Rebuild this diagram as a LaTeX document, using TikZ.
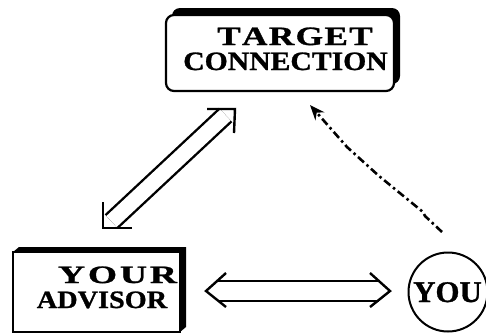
\documentclass[tikz,border=0pt]{standalone}
\usepackage{fontspec}
\setmainfont{Liberation Serif}
\newfontfamily\heavy[BoldFeatures={FakeBold=1.0}]{Liberation Serif}
\usepackage{graphicx}
\usetikzlibrary{arrows.meta}
\begin{document}
\begin{tikzpicture}[x=1pt,y=-1pt,
  boxline/.style={draw=black,line width=2.2pt,fill=white,inner sep=0pt},
  shade/.style={fill=black,draw=none},
  txt/.style={anchor=base,inner sep=0pt},
  dbl/.style={draw=black,double=white,double distance=17pt,line width=2.4pt},
  headline/.style={draw=black,line width=2.4pt,line cap=butt,line join=miter},
  dashdot/.style={draw=black,line width=2.6pt,dash pattern=on 8pt off 3.5pt on 2.5pt off 3.5pt,-{Stealth[length=15pt,width=12pt]}}]
\useasboundingbox (0,0) rectangle (486,335);
% target box
\fill[shade,rounded corners=8pt] (172,8) rectangle (400,84);
\node[boxline,rounded corners=8pt,minimum width=228pt,minimum height=76pt] (tgt) at (280,53) {};
\node[txt,font=\heavy\bfseries\fontsize{26.5}{28}\selectfont] (t1) at (295,45) {\scalebox{1.33}[1]{\makebox[117pt][s]{T\hfil A\hfil R\hfil G\hfil E\hfil T}}};
\node[txt,font=\heavy\bfseries\fontsize{26.5}{28}\selectfont] (t2) at (285.5,70) {\scalebox{1.12}[1]{CONNECTION}};
% advisor box
\fill[shade] (13,252) -- (19,247) -- (186,247) -- (186,327) -- (180,332) -- cycle;
\node[boxline,minimum width=167pt,minimum height=80pt] (adv) at (96.5,292) {};
\node[txt,font=\heavy\bfseries\fontsize{25}{27}\selectfont] (a1) at (117.5,283) {\scalebox{1.5}[1]{\makebox[79.3pt][s]{Y\hfil O\hfil U\hfil R}}};
\node[txt,font=\heavy\bfseries\fontsize{25}{27}\selectfont] (a2) at (102,308) {\scalebox{1.13}[1]{ADVISOR}};
% you circle
\node[draw=black,line width=2pt,circle,minimum size=79pt,inner sep=0pt] (you) at (448,292) {};
\node[txt,font=\heavy\bfseries\fontsize{30}{32}\selectfont] (y1) at (447.5,302) {\scalebox{1.03}[1]{YOU}};
% horizontal double arrow
\coordinate (hl) at (206,291);
\coordinate (hr) at (390,291);
\coordinate (hls) at (217.5,291);
\coordinate (hrs) at (378.5,291);
\draw[dbl,double distance=18pt] (hls) -- (hrs);
\draw[headline] ([shift={(20,-18)}]hl) -- (hl) -- ([shift={(20,16)}]hl);
\draw[headline] ([shift={(-20,-18)}]hr) -- (hr) -- ([shift={(-20,16)}]hr);
% diagonal double arrow
\coordinate (da) at (103,228);
\coordinate (db) at (235,109);
\coordinate (das) at (111.5,221.5);
\coordinate (dbs) at (225.5,115);
\draw[dbl,double distance=15pt] (das) -- (dbs);
\draw[headline] ([shift={(0,-26)}]da) -- (da) -- ([shift={(29,0)}]da);
\draw[headline] ([shift={(-28,0)}]db) -- (db) -- ([shift={(-1,24)}]db);
% dashed arrow
\coordinate (ds) at (442,232);
\coordinate (de) at (310,105);
\draw[dashdot] (ds) -- (425,216) -- (423,212) -- (379,176) -- (347,147) -- (de);
\end{tikzpicture}
\end{document}
